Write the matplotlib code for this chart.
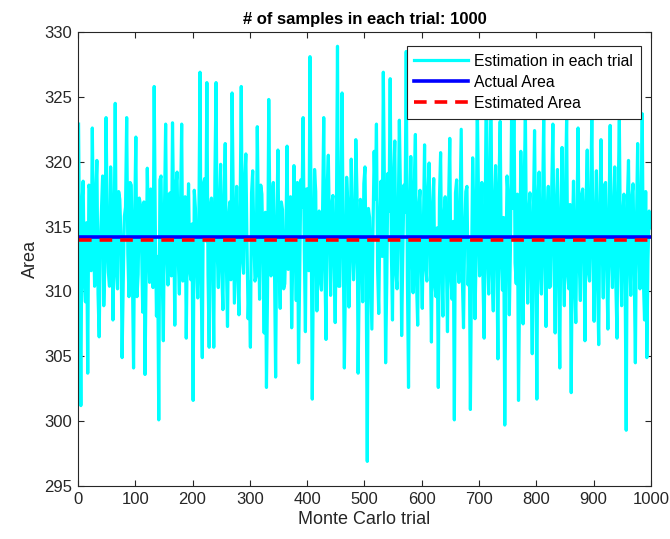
import matplotlib
matplotlib.use("Agg")
import matplotlib.pyplot as plt
import numpy as np

plt.rcParams['font.family'] = ['Liberation Sans', 'DejaVu Sans']

# estimation in each trial at trials 1, 5, 9, ... (peaks / dips)
estimates_a = [
    322.9, 301.2, 318.5, 309.2, 303.7, 317.8, 322.6, 310.4, 320.1, 306.5,
    316.2, 308.9, 323.4, 311.5, 319.6, 307.8, 324.5, 310.2, 317.1, 304.9,
    315.8, 323.4, 309.6, 318.2, 304.1, 321.9, 311.3, 316.7, 308.4, 303.6,
    319.5, 310.7, 317.3, 325.8, 308.1, 300.1, 318.9, 306.2, 322.9, 310.5,
    317.6, 323.0, 307.4, 319.2, 309.8, 322.9, 312.1, 306.4, 318.3, 310.9,
    301.6, 316.4, 309.5, 326.9, 304.9, 318.7, 326.1, 305.7, 317.2, 305.7,
    326.1, 310.3, 319.8, 308.6, 321.4, 307.3, 316.9, 325.3, 309.1, 318.1,
    308.2, 325.8, 311.4, 320.6, 307.9, 305.7, 319.3, 310.8, 322.7, 309.4,
    317.5, 306.8, 302.6, 324.8, 311.2, 318.4, 303.4, 320.9, 308.7, 316.3,
    310.6, 321.2, 314.8, 307.2, 319.7, 309.3, 304.5, 318.6, 323.4, 306.9,
    317.9, 328.1, 301.7, 319.4, 308.5, 316.2, 310.1, 323.4, 306.3, 320.5,
    309.7, 317.4, 307.6, 328.9, 310.4, 325.3, 304.1, 318.8, 308.8, 320.2,
    310.9, 321.7, 303.7, 317.1, 309.2, 319.6, 296.9, 315.7, 307.1, 320.8,
    322.9, 308.3, 318.5, 326.9, 304.5, 319.1, 326.4, 307.8, 321.6, 310.2,
    323.2, 306.6, 318.2, 328.5, 302.6, 320.4, 309.9, 322.1, 307.4, 317.8,
    308.7, 321.3, 310.8, 319.9, 306.1, 318.7, 309.6, 302.6, 320.7, 308.1,
    317.3, 306.9, 321.8, 309.4, 300.1, 318.6, 310.7, 322.5, 307.2, 317.7,
    310.5, 300.9, 320.3, 307.9, 324.6, 311.2, 318.4, 306.4, 328.2, 309.8,
    325.4, 308.5, 319.7, 304.8, 323.1, 310.1, 299.7, 318.9, 308.2, 324.2,
    326.0, 310.6, 301.6, 320.8, 307.5, 323.8, 309.1, 317.6, 305.2, 322.4,
    301.7, 319.2, 309.8, 323.5, 307.3, 318.1, 310.4, 322.9, 306.8, 319.4,
    304.1, 321.1, 308.9, 323.3, 310.2, 302.2, 318.5, 307.6, 322.6, 309.3,
    317.9, 306.2, 320.9, 310.8, 323.6, 307.7, 319.3, 305.9, 321.7, 309.5,
    318.4, 307.1, 322.8, 310.3, 319.6, 306.4, 323.2, 308.9, 317.5, 299.3,
    320.1, 309.7, 318.3, 304.5, 321.4, 310.2, 323.7, 307.8, 304.9, 316.2,
]
# in-between trials 3, 7, 11, ... (the dense band around the mean)
estimates_b = [
    312.4, 316.8, 310.9, 315.3, 318.2, 311.6, 314.9, 317.4, 309.8, 313.7,
    318.9, 312.2, 315.6, 310.4, 316.1, 313.3, 311.8, 317.7, 314.2, 310.7,
    316.5, 312.9, 318.4, 311.1, 315.8, 309.6, 317.2, 313.5, 316.9, 311.9,
    314.6, 317.9, 310.3, 315.1, 312.7, 318.6, 311.4, 316.3, 313.1, 317.5,
    311.2, 315.9, 318.1, 312.6, 316.7, 310.8, 317.3, 314.4, 311.7, 315.2,
    317.8, 312.1, 315.4, 310.6, 318.3, 313.9, 311.3, 316.6, 312.8, 318.7,
    313.2, 316.4, 311.5, 317.1, 312.3, 315.7, 310.9, 316.8, 313.6, 311.4,
    316.2, 312.5, 318.5, 313.8, 310.7, 317.6, 314.1, 311.2, 315.5, 318.2,
    312.9, 316.1, 310.5, 315.8, 317.4, 311.9, 314.7, 312.4, 316.9, 310.2,
    314.3, 311.7, 317.3, 312.8, 315.2, 318.4, 311.1, 316.5, 313.4, 317.9,
    311.6, 315.9, 312.2, 317.7, 313.5, 310.8, 316.3, 311.9, 318.1, 314.6,
    316.7, 312.3, 315.1, 310.4, 317.2, 313.7, 311.5, 316.8, 312.6, 315.4,
    313.1, 317.6, 310.9, 315.7, 318.3, 312.1, 316.4, 311.3, 314.8, 317.1,
    311.8, 315.3, 312.7, 317.9, 310.6, 316.2, 313.3, 318.6, 311.4, 315.6,
    317.4, 312.8, 316.1, 311.2, 315.9, 313.6, 318.2, 310.7, 316.6, 312.4,
    315.2, 311.9, 317.8, 313.4, 316.3, 310.5, 314.9, 317.2, 312.1, 315.8,
    312.6, 316.9, 311.1, 315.4, 317.6, 312.3, 316.7, 310.9, 314.5, 318.1,
    313.9, 311.6, 316.2, 312.9, 317.7, 314.3, 310.8, 316.5, 312.7, 317.3,
    311.3, 316.8, 313.2, 318.4, 312.5, 315.7, 311.9, 317.1, 313.6, 316.4,
    312.2, 317.5, 310.6, 315.3, 318.3, 312.8, 316.1, 311.4, 315.9, 313.1,
    317.2, 311.7, 316.6, 312.4, 315.8, 310.3, 317.9, 313.5, 316.3, 311.8,
    315.4, 312.6, 317.8, 311.2, 316.7, 313.8, 310.9, 315.6, 312.3, 317.4,
    313.3, 316.9, 311.5, 317.1, 312.9, 315.2, 310.7, 316.4, 313.7, 318.2,
    311.9, 315.7, 312.8, 316.2, 310.4, 317.6, 313.1, 315.9, 311.6, 316.8,
    312.7, 317.3, 311.2, 315.5, 313.9, 316.6, 310.8, 317.7, 312.4, 314.9,
]
actual_area = 314.159
estimated_area = 313.95
n_trials = 1000

estimates = np.column_stack([estimates_a, estimates_b]).ravel()
trials = np.arange(len(estimates)) * 2 + 1

fig = plt.figure(figsize=(6.7, 5.39), dpi=100)
ax = fig.add_axes([0.1164, 0.0983, 0.855, 0.8423])

ax.plot(trials, estimates, color=(0, 1, 1), lw=2.3, label='Estimation in each trial')
ax.plot([1, n_trials], [actual_area] * 2, color=(0, 0, 1), lw=2.6, label='Actual Area')
ax.plot([1, n_trials], [estimated_area] * 2, color=(1, 0, 0), lw=2.6,
        ls=(0, (3.5, 2.2)), label='Estimated Area')

ax.set_xlim(0, 1000)
ax.set_ylim(295, 330)
ax.set_xticks(np.arange(0, 1001, 100))
ax.set_yticks(np.arange(295, 331, 5))
ax.tick_params(direction='in', top=True, right=True, labelsize=12, length=4,
               width=0.8, color='#262626', labelcolor='#262626', pad=4)
for s in ax.spines.values():
    s.set_color('#262626')
    s.set_linewidth(0.8)

ax.set_xlabel('Monte Carlo trial', fontsize=13, color='#262626', labelpad=3)
ax.set_ylabel('Area', fontsize=13, color='#262626', labelpad=4)
ax.set_title('# of samples in each trial: 1000', fontsize=12, fontweight='bold', pad=6)

leg = ax.legend(loc='upper right', bbox_to_anchor=(0.983, 0.969), fontsize=11.3,
                fancybox=False, edgecolor='#262626', framealpha=1,
                handlelength=3.4, handletextpad=0.42, borderpad=0.5,
                labelspacing=0.38, borderaxespad=0)
leg.get_frame().set_linewidth(0.8)

fig.savefig('out.png', dpi=100)
